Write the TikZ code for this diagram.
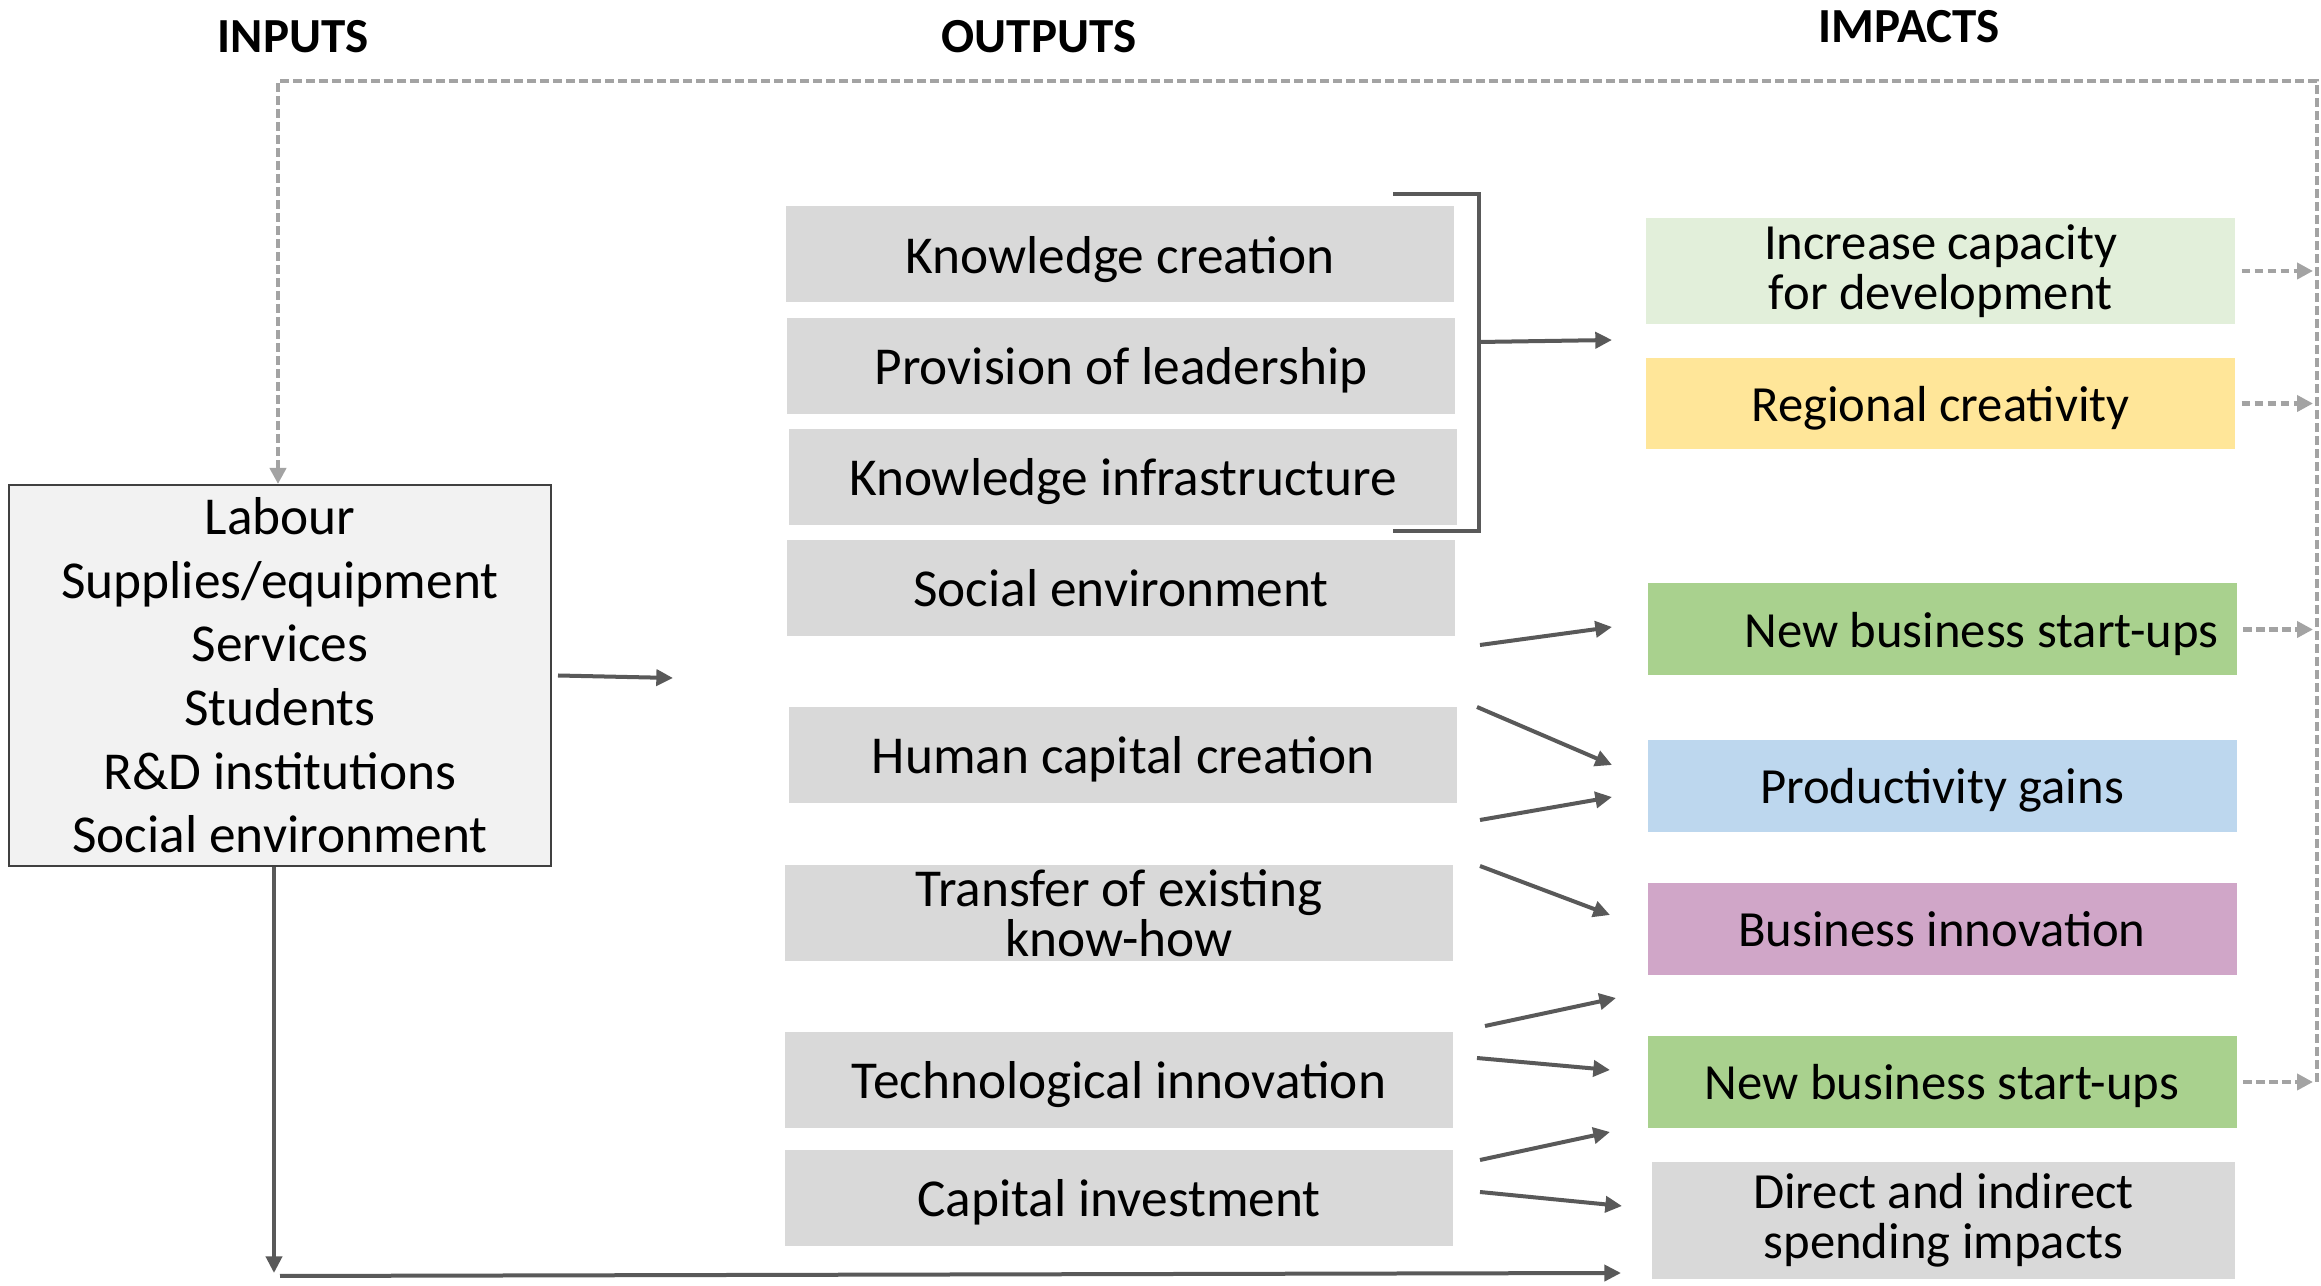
\documentclass[tikz,border=0pt]{standalone}
\usepackage{fontspec}
\setmainfont{Carlito}
\usetikzlibrary{arrows.meta}
\definecolor{boxgray}{HTML}{D9D9D9}
\definecolor{inpfill}{HTML}{F2F2F2}
\definecolor{inpline}{HTML}{404040}
\definecolor{arrgray}{HTML}{595959}
\definecolor{dashgray}{HTML}{A3A3A3}
\definecolor{gpale}{HTML}{E2EFDA}
\definecolor{yel}{HTML}{FFE699}
\definecolor{gnew}{HTML}{A9D18E}
\definecolor{bprod}{HTML}{BDD7EE}
\definecolor{pinno}{HTML}{D0A6C8}
\newcommand{\hdr}[1]{\fontsize{14.7}{16}\selectfont\bfseries #1}

\begin{document}
\begin{tikzpicture}[
    x=0.3pt, y=-0.3pt,
    every node/.style={font=\fontsize{16}{15}\selectfont, align=center, inner sep=0pt},
    oneline/.style={text depth=0pt},
    output/.style={fill=boxgray, minimum width=200.4pt, minimum height=28.8pt},
    impact/.style={minimum width=176.7pt, minimum height=#1, font=\fontsize{15.2}{15}\selectfont},
    impact/.default=27.6pt,
    arr/.style={draw=arrgray, line width=1.2pt, -{Triangle[length=5pt,width=4.8pt]}},
    fb/.style={draw=dashgray, line width=1.3pt, dash pattern=on 2.6pt off 1.3pt, -{Triangle[length=4.8pt,width=4.8pt]}}
  ]
  \useasboundingbox (0,0) rectangle (2321,1286);

  % column headings
  \node (hin)  at (293,37)  {\hdr{INPUTS}};
  \node (hout) at (1039,37) {\hdr{OUTPUTS}};
  \node (himp) at (1909,27) {\hdr{IMPACTS}};

  % the inputs
  \node[draw=inpline, fill=inpfill, line width=0.6pt, minimum width=162.6pt, minimum height=114.3pt,
        font=\fontsize{16}{19.1}\selectfont] (inp) at (280,675.5)
    {Labour\\Supplies/equipment\\Services\\Students\\R\&D institutions\\Social environment};

  % the outputs
  \node[output, oneline] (kc) at (1120,254.5) {Knowledge creation};
  \node[output, oneline] (pl) at (1121,366)   {Provision of leadership};
  \node[output, oneline] (ki) at (1123,477)   {Knowledge infrastructure};
  \node[output, oneline] (se) at (1121,588)   {Social environment};
  \node[output, oneline] (hc) at (1123,755)   {Human capital creation};
  \node[output] (tk) at (1119,913)   {Transfer of existing\\know-how};
  \node[output, oneline] (ti) at (1119,1080)  {Technological innovation};
  \node[output, oneline] (ci) at (1119,1198)  {Capital investment};

  % the impacts
  \node[impact=31.8pt, fill=gpale] (icd) at (1940.5,271) {Increase capacity\\for development};
  \node[impact=27.3pt, oneline, fill=yel] (rc) at (1940.5,403.5) {Regional creativity};
  \node[impact, oneline, fill=gnew, text width=165.9pt, align=flush right] (nb1) at (1942,629.5) {New business start-ups};
  \node[impact, oneline, fill=bprod] (pg)  at (1942,786)  {Productivity gains};
  \node[impact, oneline, fill=pinno] (bi)  at (1942,929)  {Business innovation};
  \node[impact, oneline, fill=gnew]  (nb2) at (1942,1082) {New business start-ups};
  \node[impact=35.1pt, fill=boxgray, minimum width=174.9pt] (dis) at (1943.5,1220.5) {Direct and indirect\\spending impacts};

  % bracket round the first three outputs
  \coordinate (brT) at (1479,194);
  \coordinate (brB) at (1479,531);
  \coordinate (brM) at (1479,342);
  \coordinate (brE) at (1612,340);
  \draw[arrgray, line width=1.2pt] (1393,194) -- (brT) -- (brB) -- (1393,531);
  \draw[arr] (brM) -- (brE);

  % inputs to outputs, and straight down to spending
  \coordinate (inE) at (673,678);
  \coordinate (botL) at (274,1273);
  \coordinate (botS) at (280,1276);
  \coordinate (botE) at (1621,1273);
  \draw[arr] ([xshift=1.8pt]inp.east) -- (inE);
  \draw[arr] (inp.south -| botL) -- (botL);
  \draw[arr] (botS) -- (botE);

  % outputs to impacts
  \foreach \a/\b [count=\i] in {{1480,645}/{1612,627}, {1477,707}/{1612,765}, {1480,820}/{1612,797},
      {1480,866}/{1610,915}, {1485,1026}/{1616,998}, {1477,1058}/{1610,1070},
      {1480,1160}/{1610,1132}, {1480,1192}/{1622,1206}} {
    \coordinate (s\i) at (\a);
    \coordinate (t\i) at (\b);
    \draw[arr] (s\i) -- (t\i);
  }

  % feedback loop back to the inputs
  \coordinate (fbB) at (2317,1082);
  \coordinate (fbR) at (2317,81);
  \coordinate (fbL) at (278,81);
  \draw[fb] (fbB) -- (fbR) -- (fbL) -- (inp.north -| fbL);
  \foreach \n in {icd, rc, nb1, nb2}
    \draw[fb] ([xshift=1.8pt]\n.east) -- ([xshift=-1.2pt]\n.east -| fbR);
\end{tikzpicture}
\end{document}
